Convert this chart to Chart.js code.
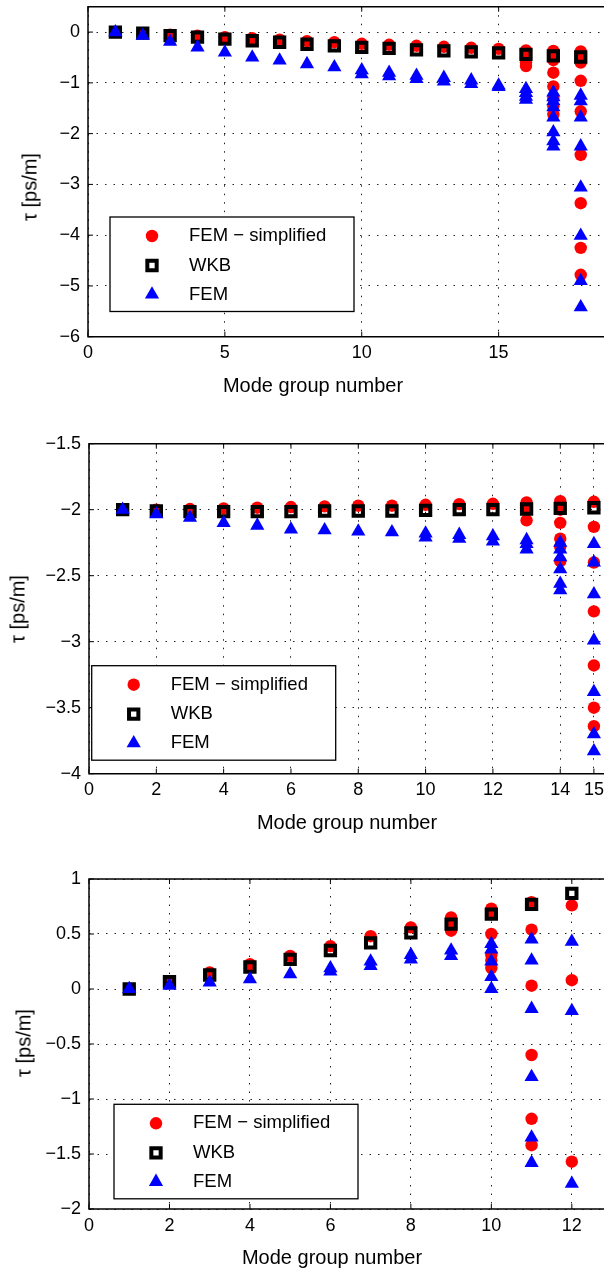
<!DOCTYPE html>
<html>
<head>
<meta charset="utf-8">
<script src="https://cdn.jsdelivr.net/npm/chart.js@4.4.1/dist/chart.umd.min.js"></script>
<style>
  html, body { margin: 0; padding: 0; background: #fff; }
  #wrap { position: relative; width: 604px; height: 1270px; overflow: hidden; font-family: "Liberation Sans", Arial, sans-serif; color: #000; }
  canvas { position: absolute; left: 0; }
  .xt, .yt { position: absolute; font-size: 20px; white-space: nowrap; transform: translate(-50%, -50%); }
  .yt { transform: translate(-50%, -50%) rotate(-90deg); }
</style>
</head>
<body>
<div id="wrap">
  <canvas id="c1" width="604" height="400" style="top:0px"></canvas>
  <canvas id="c2" width="604" height="420" style="top:405px"></canvas>
  <canvas id="c3" width="604" height="420" style="top:850px"></canvas>
  <div class="xt" style="left:313px;top:385px">Mode group number</div>
  <div class="xt" style="left:347px;top:822px">Mode group number</div>
  <div class="xt" style="left:332px;top:1257px">Mode group number</div>
  <div class="yt" style="left:30px;top:187px">τ [ps/m]</div>
  <div class="yt" style="left:18px;top:609px">τ [ps/m]</div>
  <div class="yt" style="left:24px;top:1043px">τ [ps/m]</div>
</div>
<script>
// ===== DATA =====
// one row per mode group, each row holds all the values found in that group
const topModes = [1, 2, 3, 4, 5, 6, 7, 8, 9, 10, 11, 12, 13, 14, 15, 16, 17, 18];
const topWkb = [0, -0.02, -0.07, -0.10, -0.14, -0.17, -0.20, -0.24, -0.27, -0.30, -0.32, -0.35, -0.37, -0.39, -0.41, -0.44, -0.47, -0.49];
const topSimp = [[0], [-0.02], [-0.05], [-0.07], [-0.10], [-0.12], [-0.15], [-0.18], [-0.20], [-0.23], [-0.25], [-0.27], [-0.29], [-0.31], [-0.33],
  [-0.36, -0.5, -0.6, -0.67],
  [-0.37, -0.55, -0.8, -1.07, -1.3, -1.46, -1.62],
  [-0.38, -0.6, -0.96, -1.56, -2.42, -3.37, -4.25, -4.78]];
const topFem = [[0], [-0.07], [-0.19], [-0.30], [-0.40], [-0.50], [-0.56], [-0.63], [-0.69], [-0.75, -0.83], [-0.80, -0.87], [-0.86, -0.92],
  [-0.90, -0.97], [-0.95, -1.02], [-1.05, -1.08],
  [-1.12, -1.2, -1.27, -1.33],
  [-1.19, -1.28, -1.36, -1.48, -1.68, -1.97, -2.15, -2.25],
  [-1.25, -1.36, -1.68, -2.25, -3.06, -4.01, -4.9, -5.42]];
const topXTicks = [0, 5, 10, 15];
const topYTicks = [-6, -5, -4, -3, -2, -1, 0];

const midModes = [1, 2, 3, 4, 5, 6, 7, 8, 9, 10, 11, 12, 13, 14, 15];
const midWkb = [-2.0, -2.01, -2.015, -2.015, -2.015, -2.015, -2.01, -2.01, -2.01, -2.005, -2.0, -2.0, -1.995, -1.99, -1.985];
const midSimp = [[-2.0], [-2.0], [-1.995], [-1.99], [-1.985], [-1.98], [-1.975], [-1.97], [-1.97], [-1.963], [-1.958], [-1.955],
  [-1.945, -2.0, -2.08],
  [-1.935, -2.0, -2.1, -2.22, -2.28, -2.39],
  [-1.94, -2.13, -2.4, -2.77, -3.18, -3.5, -3.64]];
const midFem = [[-2.0], [-2.034], [-2.06], [-2.1], [-2.12], [-2.15], [-2.155], [-2.165], [-2.17], [-2.18, -2.21], [-2.19, -2.22], [-2.2, -2.24],
  [-2.23, -2.26, -2.3],
  [-2.25, -2.3, -2.36, -2.45, -2.56, -2.61],
  [-2.26, -2.4, -2.64, -2.99, -3.38, -3.7, -3.83]];
const midXTicks = [0, 2, 4, 6, 8, 10, 12, 14, 15];
const midYTicks = [-4, -3.5, -3, -2.5, -2, -1.5];

const botModes = [1, 2, 3, 4, 5, 6, 7, 8, 9, 10, 11, 12];
const botWkb = [0, 0.066, 0.127, 0.2, 0.27, 0.35, 0.42, 0.51, 0.59, 0.68, 0.77, 0.87];
const botSimp = [[0], [0.07], [0.15], [0.225], [0.3], [0.39], [0.48], [0.56], [0.65, 0.6, 0.53],
  [0.73, 0.68, 0.5, 0.31, 0.26, 0.19],
  [0.79, 0.54, 0.03, -0.6, -1.18, -1.42],
  [0.76, 0.08, -1.57]];
const botFem = [[0], [0.03], [0.06], [0.09], [0.135], [0.19, 0.16], [0.25, 0.21], [0.31, 0.27], [0.35, 0.3],
  [0.41, 0.36, 0.25, 0.11, 0.0],
  [0.45, 0.26, -0.18, -0.8, -1.35, -1.58],
  [0.43, -0.2, -1.77]];
const botXTicks = [0, 2, 4, 6, 8, 10, 12];
const botYTicks = [-2, -1.5, -1, -0.5, 0, 0.5, 1];

const seriesLabels = ["FEM \u2212 simplified", "WKB", "FEM"];

// ===== HELPERS =====
function groupPoints(modes, rows) {
  const pts = [];
  rows.forEach((vals, i) => vals.forEach(v => pts.push({ x: modes[i], y: v })));
  return pts;
}

function singlePoints(modes, vals) {
  return vals.map((v, i) => ({ x: modes[i], y: v }));
}

const minus = v => String(v).replace("-", "\u2212");

Chart.defaults.font.family = "'Liberation Sans', Arial, sans-serif";
Chart.defaults.color = "#000";

// box, inward ticks and the boxed legend like the original figure
const matlabAxes = {
  id: "matlabAxes",
  beforeDatasetsDraw(chart) {
    const { ctx, chartArea: a, scales: { x, y } } = chart;
    ctx.save();
    ctx.strokeStyle = "#000";
    ctx.lineWidth = 1.5;
    ctx.beginPath();
    ctx.moveTo(a.right + 2, a.top);
    ctx.lineTo(a.left, a.top);
    ctx.lineTo(a.left, a.bottom);
    ctx.lineTo(a.right + 2, a.bottom);
    ctx.stroke();
    ctx.lineWidth = 1;
    ctx.beginPath();
    x.ticks.forEach(t => {
      const px = x.getPixelForValue(t.value);
      ctx.moveTo(px, a.bottom); ctx.lineTo(px, a.bottom - 5);
      ctx.moveTo(px, a.top); ctx.lineTo(px, a.top + 5);
    });
    y.ticks.forEach(t => {
      const py = y.getPixelForValue(t.value);
      ctx.moveTo(a.left, py); ctx.lineTo(a.left + 5, py);
    });
    ctx.stroke();
    ctx.restore();
  },
  afterDraw(chart, args, opts) {
    const L = opts.legend;
    if (!L) return;
    const { ctx } = chart;
    const rows = [19, 48.5, 77.5];
    ctx.save();
    ctx.fillStyle = "#fff";
    ctx.fillRect(L.left, L.top, 244, 94.5);
    ctx.strokeStyle = "#000";
    ctx.lineWidth = 1.3;
    ctx.strokeRect(L.left, L.top, 244, 94.5);
    chart.data.datasets.forEach((ds, i) => {
      const cy = L.top + rows[i];
      ctx.fillStyle = ds.backgroundColor;
      ctx.strokeStyle = ds.borderColor;
      ctx.lineWidth = ds.pointBorderWidth;
      Chart.helpers.drawPoint(ctx, {
        pointStyle: ds.pointStyle, radius: ds.pointRadius,
        borderWidth: ds.pointBorderWidth, rotation: 0
      }, L.left + 42, cy);
      ctx.fillStyle = "#000";
      ctx.font = "18.5px 'Liberation Sans', Arial, sans-serif";
      ctx.textBaseline = "middle";
      ctx.textAlign = "left";
      ctx.fillText(ds.label, L.left + 79, cy);
    });
    ctx.restore();
  }
};

function makeDatasets(modes, simp, wkb, fem) {
  return [{
    label: seriesLabels[0],
    data: groupPoints(modes, simp),
    pointStyle: "circle", pointRadius: 6.2,
    backgroundColor: "#ff0000", borderColor: "#ff0000", pointBorderWidth: 0,
    order: 3
  }, {
    label: seriesLabels[1],
    data: singlePoints(modes, wkb),
    pointStyle: "rect", pointRadius: 6.6,
    backgroundColor: "rgba(0,0,0,0)", borderColor: "#000", pointBorderWidth: 4,
    order: 2
  }, {
    label: seriesLabels[2],
    data: groupPoints(modes, fem),
    pointStyle: "triangle", pointRadius: 8.2,
    backgroundColor: "#0000ff", borderColor: "#0000ff", pointBorderWidth: 0,
    order: 1
  }];
}

function makeChart(id, o) {
  const canvas = document.getElementById(id);
  new Chart(canvas, {
    type: "scatter",
    data: { datasets: makeDatasets(o.modes, o.simp, o.wkb, o.fem) },
    plugins: [matlabAxes],
    options: {
      responsive: false,
      animation: false,
      events: [],
      layout: { autoPadding: false, padding: { top: o.top, left: 0, right: 0, bottom: 0 } },
      plugins: {
        legend: { display: false },
        tooltip: { enabled: false },
        matlabAxes: { legend: o.legend }
      },
      scales: {
        x: {
          type: "linear", min: 0, max: o.xMax,
          afterBuildTicks: s => { s.ticks = o.xTicks.map(v => ({ value: v })); },
          afterFit: s => {
            s.height = canvas.height - o.top - 330;
            s.paddingLeft = 0; s.paddingRight = 0;
          },
          grid: { color: "#222", lineWidth: 1, drawTicks: false },
          border: { display: false, dash: [1.5, 7] },
          ticks: { font: { size: 18 }, padding: 6, maxRotation: 0, callback: minus }
        },
        y: {
          type: "linear", min: o.yMin, max: o.yMax,
          afterBuildTicks: s => { s.ticks = o.yTicks.map(v => ({ value: v })); },
          afterFit: s => {
            s.width = o.left;
            s.paddingTop = 0; s.paddingBottom = 0;
          },
          grid: { color: "#222", lineWidth: 1, drawTicks: false },
          border: { display: false, dash: [1.5, 7] },
          ticks: { font: { size: 18 }, padding: 8, callback: minus }
        }
      }
    }
  });
}

makeChart("c1", {
  modes: topModes, simp: topSimp, wkb: topWkb, fem: topFem,
  xMax: 18.85, yMin: -6, yMax: 0.5, xTicks: topXTicks, yTicks: topYTicks,
  top: 6.7, left: 88, legend: { left: 110, top: 217 }
});

makeChart("c2", {
  modes: midModes, simp: midSimp, wkb: midWkb, fem: midFem,
  xMax: 15.3, yMin: -4, yMax: -1.5, xTicks: midXTicks, yTicks: midYTicks,
  top: 38.7, left: 89, legend: { left: 91.7, top: 260.7 }
});

makeChart("c3", {
  modes: botModes, simp: botSimp, wkb: botWkb, fem: botFem,
  xMax: 12.8, yMin: -2, yMax: 1, xTicks: botXTicks, yTicks: botYTicks,
  top: 29, left: 89, legend: { left: 114, top: 254.3 }
});
</script>
</body>
</html>
